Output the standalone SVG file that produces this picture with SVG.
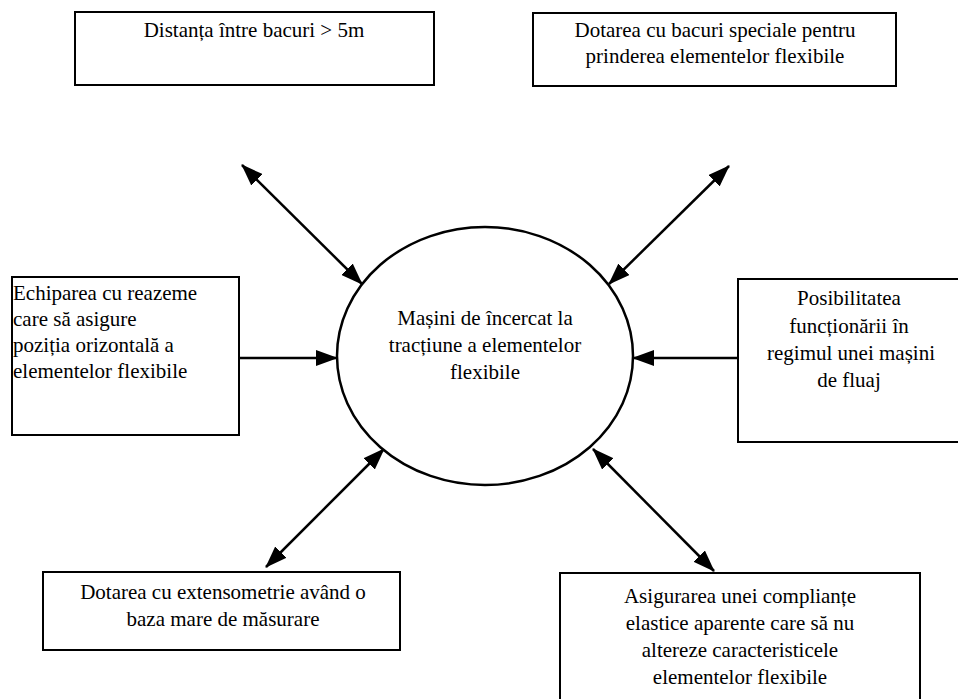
<svg xmlns="http://www.w3.org/2000/svg" width="958" height="699" viewBox="0 0 958 699">
<style>
.box{fill:#fff;stroke:#000;stroke-width:2}
.ln{stroke:#000;stroke-width:2.5;fill:none}
text{font-family:"Liberation Serif","Times New Roman",serif;font-size:21px;fill:#000}
.c{text-anchor:middle}
</style>
<defs>
<marker id="ah" markerUnits="userSpaceOnUse" markerWidth="22" markerHeight="16" viewBox="0 0 22 16" refX="21" refY="8" orient="auto-start-reverse">
<path d="M0,0 L22,8 L0,16 Z" fill="#000"/>
</marker>
</defs>
<rect width="958" height="699" fill="#fff"/>
<g id="connectors">
<line class="ln" x1="242" y1="165" x2="362" y2="284" marker-start="url(#ah)" marker-end="url(#ah)"/>
<line class="ln" x1="729" y1="166" x2="609" y2="284" marker-start="url(#ah)" marker-end="url(#ah)"/>
<line class="ln" x1="239" y1="358" x2="337" y2="358" marker-end="url(#ah)"/>
<line class="ln" x1="738" y1="358" x2="633" y2="358" marker-end="url(#ah)"/>
<line class="ln" x1="384" y1="449" x2="266" y2="567" marker-start="url(#ah)" marker-end="url(#ah)"/>
<line class="ln" x1="593" y1="449" x2="714" y2="571" marker-start="url(#ah)" marker-end="url(#ah)"/>
</g>
<g id="center">
<ellipse cx="485" cy="356" rx="148" ry="129" fill="#fff" stroke="#000" stroke-width="2.5"/>
<text class="c" x="485" y="325">Mașini de încercat la</text>
<text class="c" x="485" y="352">tracțiune a elementelor</text>
<text class="c" x="485" y="379">flexibile</text>
</g>
<g id="n1">
<rect class="box" x="75" y="12" width="359" height="73"/>
<text class="c" x="254" y="37">Distanța între bacuri &gt; 5m</text>
</g>
<g id="n2">
<rect class="box" x="533" y="13" width="363" height="73"/>
<text class="c" x="715" y="37">Dotarea cu bacuri speciale pentru</text>
<text class="c" x="715" y="63">prinderea elementelor flexibile</text>
</g>
<g id="n3">
<rect class="box" x="12" y="277" width="227" height="158"/>
<text x="13" y="300">Echiparea cu reazeme</text>
<text x="13" y="326">care să asigure</text>
<text x="13" y="352">poziția orizontală a</text>
<text x="13" y="378">elementelor flexibile</text>
</g>
<g id="n4">
<rect class="box" x="738" y="279" width="222" height="163"/>
<text class="c" x="849" y="305">Posibilitatea</text>
<text class="c" x="849" y="333">funcționării în</text>
<text class="c" x="851" y="360">regimul unei mașini</text>
<text class="c" x="849" y="387">de fluaj</text>
</g>
<g id="n5">
<rect class="box" x="43" y="572" width="357" height="78"/>
<text class="c" x="223" y="599">Dotarea cu extensometrie având o</text>
<text class="c" x="223" y="626">baza mare de măsurare</text>
</g>
<g id="n6">
<rect class="box" x="560" y="573" width="360" height="140"/>
<text class="c" x="740" y="603">Asigurarea unei complianțe</text>
<text class="c" x="740" y="630">elastice aparente care să nu</text>
<text class="c" x="740" y="657">altereze caracteristicele</text>
<text class="c" x="740" y="684">elementelor flexibile</text>
</g>
</svg>
